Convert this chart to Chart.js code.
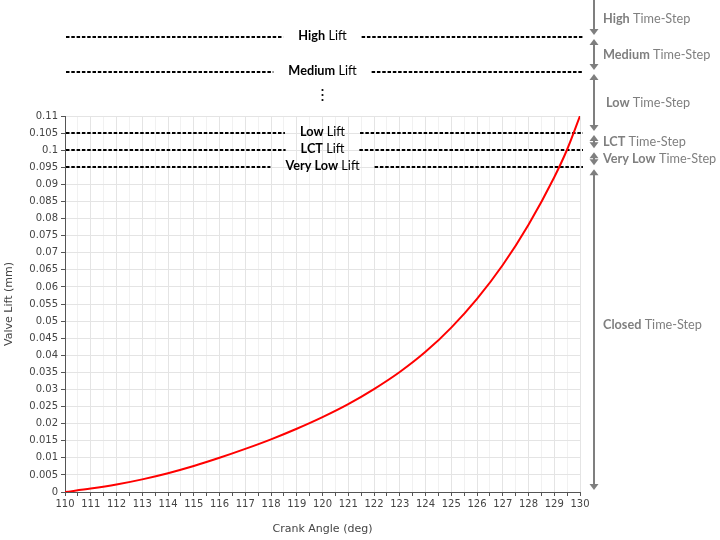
<!DOCTYPE html>
<html>
<head>
<meta charset="utf-8">
<script src="https://cdn.jsdelivr.net/npm/chart.js@4.4.1/dist/chart.umd.min.js"></script>
<style>
  html, body { margin: 0; padding: 0; background: #fff; }
  #wrap { width: 720px; height: 540px; position: relative; }
</style>
</head>
<body>
<div id="wrap"><canvas id="c" width="720" height="540"></canvas></div>
<script>
// ---- data ----
const crankAngle = [110, 111, 112, 113, 114, 115, 116, 117, 118, 119, 120, 121, 122, 123, 124, 125, 126, 127, 128, 129, 129.5, 130];
const valveLift  = [0, 0.0010, 0.0022, 0.0037, 0.0055, 0.0076, 0.0100, 0.0126, 0.0154, 0.0185, 0.0219, 0.0257, 0.0301, 0.0351, 0.0410, 0.0481, 0.0565, 0.0664, 0.0782, 0.0921, 0.1002, 0.1100];

// lift thresholds drawn inside the plot (value on the y scale)
const liftNames   = ['Low', 'LCT', 'Very Low'];
const liftValues  = [0.105, 0.1, 0.095];
// lift thresholds above the axis break
const upperLiftNames = ['High', 'Medium'];
// time-step bands (top to bottom)
const timeStepNames = ['High', 'Medium', 'Low', 'LCT', 'Very Low', 'Closed'];

const FONT = "Lato, 'Open Sans', sans-serif";
const FS = '12.7px ';

function drawMixed(ctx, x, y, boldPart, normalPart, color, align) {
  ctx.save();
  ctx.textBaseline = 'middle';
  ctx.fillStyle = color;
  ctx.font = 'bold ' + FS + FONT;
  const wb = ctx.measureText(boldPart).width;
  ctx.font = FS + FONT;
  const wn = ctx.measureText(' ' + normalPart).width;
  let sx = x;
  if (align === 'center') sx = x - (wb + wn) / 2;
  ctx.font = 'bold ' + FS + FONT;
  ctx.textAlign = 'left';
  ctx.fillText(boldPart, sx, y);
  ctx.font = FS + FONT;
  ctx.fillText(' ' + normalPart, sx + wb, y);
  ctx.restore();
  return wb + wn;
}

function measureMixed(ctx, boldPart, normalPart) {
  ctx.save();
  ctx.font = 'bold ' + FS + FONT;
  const wb = ctx.measureText(boldPart).width;
  ctx.font = FS + FONT;
  const wn = ctx.measureText(' ' + normalPart).width;
  ctx.restore();
  return wb + wn;
}

function liftLevelYs(chart) {
  const area = chart.chartArea;
  const ys = [area.top - 79, area.top - 44];
  const y = chart.scales.y;
  liftValues.forEach(v => ys.push(y.getPixelForValue(v)));
  return ys; // High, Medium, Low, LCT, Very Low
}

const annotPlugin = {
  id: 'annot',
  beforeDatasetsDraw(chart) {
    const ctx = chart.ctx;
    const area = chart.chartArea;
    const ys = liftLevelYs(chart);
    const cx = (area.left + area.right) / 2;
    const x0 = area.left + 1, x1 = area.right + 3;
    const names = upperLiftNames.concat(liftNames);
    ctx.save();
    ctx.strokeStyle = '#000';
    ctx.lineWidth = 2;
    ctx.setLineDash([3.5, 1.8]);
    names.forEach((n, i) => {
      const w = measureMixed(ctx, n, 'Lift');
      const gap = 15;
      const y = Math.round(ys[i]);
      ctx.beginPath();
      ctx.moveTo(x0, y); ctx.lineTo(cx - w / 2 - gap, y);
      ctx.moveTo(cx + w / 2 + gap, y); ctx.lineTo(x1, y);
      ctx.stroke();
    });
    ctx.restore();
  },
  afterDraw(chart) {
    const ctx = chart.ctx;
    const area = chart.chartArea;
    const ys = liftLevelYs(chart);
    const cx = (area.left + area.right) / 2;
    const names = upperLiftNames.concat(liftNames);
    names.forEach((n, i) => {
      drawMixed(ctx, cx, Math.round(ys[i]) - 1, n, 'Lift', '#000', 'center');
    });
    // vertical ellipsis marking the axis break
    ctx.save();
    ctx.fillStyle = '#000';
    const dy = area.top - 21;
    [-5, 0, 5].forEach(o => {
      ctx.beginPath();
      ctx.arc(cx, dy + o, 1.1, 0, Math.PI * 2);
      ctx.fill();
    });
    ctx.restore();

    // right-hand time-step arrows
    const bounds = [0].concat(ys).concat([chart.scales.y.getPixelForValue(0)]);
    const ax = area.right + 14;
    const grey = '#7f7f7f';
    ctx.save();
    ctx.strokeStyle = grey;
    ctx.fillStyle = grey;
    ctx.lineWidth = 2;
    const head = (x, tipY, dir) => {
      ctx.beginPath();
      ctx.moveTo(x, tipY);
      ctx.lineTo(x - 4.5, tipY - dir * 6);
      ctx.lineTo(x + 4.5, tipY - dir * 6);
      ctx.closePath();
      ctx.fill();
    };
    for (let i = 0; i < timeStepNames.length; i++) {
      const top = i === 0 ? 0 : bounds[i] + 2;
      const bot = bounds[i + 1] - 2;
      ctx.beginPath();
      ctx.moveTo(ax, i === 0 ? top : top + 4);
      ctx.lineTo(ax, bot - 4);
      ctx.stroke();
      if (i > 0) head(ax, top, -1);
      head(ax, bot, 1);
      const mid = i === timeStepNames.length - 1 ? top + 156 : (bounds[i] + bounds[i + 1]) / 2;
      const lx = i === 2 ? ax + 12 : ax + 9;
      drawMixed(ctx, lx, mid, timeStepNames[i], 'Time-Step', grey, 'left');
    }
    ctx.restore();
  }
};

const tickColor = '#444';
const axisFont = { family: "'DejaVu Sans', sans-serif", size: 10 };

new Chart(document.getElementById('c'), {
  type: 'line',
  data: {
    datasets: [{
      data: crankAngle.map((x, i) => ({ x: x, y: valveLift[i] })),
      borderColor: '#ff0000',
      borderWidth: 2,
      pointRadius: 0,
      fill: false,
      cubicInterpolationMode: 'monotone'
    }]
  },
  options: {
    responsive: false,
    animation: false,
    events: [],
    layout: { padding: { left: 0, top: 116, right: 140, bottom: 0 } },
    plugins: { legend: { display: false }, tooltip: { enabled: false }, title: { display: false } },
    scales: {
      x: {
        type: 'linear',
        min: 110, max: 130,
        afterFit(s) { s.height = 48; },
        border: { color: '#555', width: 1 },
        grid: {
          color: c => (c.tick && Math.abs(c.tick.value % 1) < 1e-6) ? '#e4e4e4' : '#f1f1f1',
          tickColor: '#555',
          tickLength: 4,
          drawTicks: true
        },
        ticks: {
          stepSize: 0.5,
          autoSkip: false,
          maxRotation: 0,
          padding: 2,
          color: tickColor,
          font: axisFont,
          callback: v => (Math.abs(v % 1) < 1e-6 ? String(Math.round(v)) : '')
        },
        title: {
          display: true,
          text: 'Crank Angle (deg)',
          color: tickColor,
          font: { family: "'DejaVu Sans', sans-serif", size: 11 },
          padding: { top: 0, bottom: 4 }
        }
      },
      y: {
        min: 0, max: 0.11,
        afterFit(s) { s.width = 65; },
        border: { color: '#555', width: 1 },
        grid: { color: '#e4e4e4', tickColor: '#555', tickLength: 4 },
        ticks: {
          stepSize: 0.005,
          autoSkip: false,
          padding: 3,
          color: tickColor,
          font: axisFont,
          callback: v => String(Number(v.toFixed(3)))
        },
        title: {
          display: true,
          text: 'Valve Lift (mm)',
          color: tickColor,
          font: { family: "'DejaVu Sans', sans-serif", size: 11 },
          padding: { top: 3, bottom: 0 }
        }
      }
    }
  },
  plugins: [annotPlugin]
});
</script>
</body>
</html>
